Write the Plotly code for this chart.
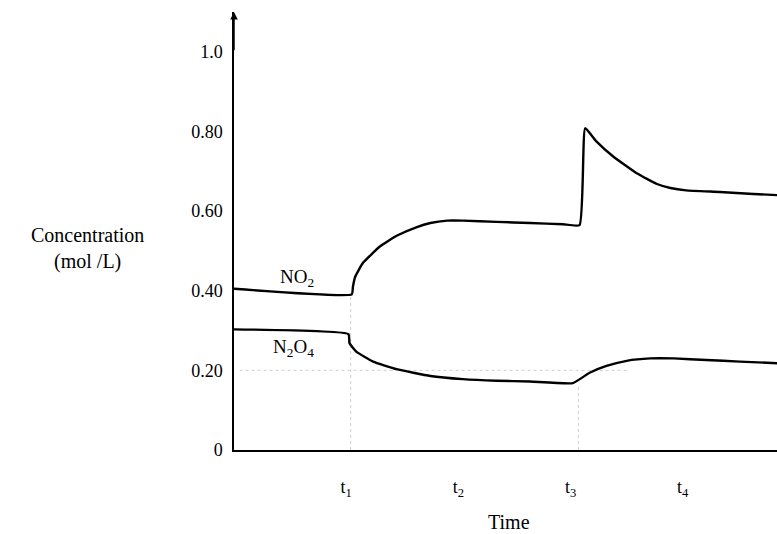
import plotly.graph_objects as go

# ---- data ----
no2_t = [0.00, 1.05, 1.06, 1.08, 1.15, 1.30, 1.45, 1.63, 1.75, 1.90, 2.04, 2.34, 2.64, 2.93, 3.08,
         3.13, 3.23, 3.38, 3.59, 3.77, 3.89, 4.03, 4.33, 4.63, 4.84]
no2_c = [0.405, 0.391, 0.410, 0.435, 0.470, 0.511, 0.538, 0.560, 0.570, 0.576, 0.576, 0.573, 0.570, 0.567, 0.565,
         0.808, 0.775, 0.737, 0.695, 0.668, 0.658, 0.652, 0.648, 0.643, 0.640]

n2o4_t = [0.00, 1.02, 1.03, 1.09, 1.24, 1.45, 1.75, 2.04, 2.34, 2.64, 3.02,
          3.17, 3.32, 3.50, 3.71, 3.92, 4.21, 4.51, 4.84]
n2o4_c = [0.303, 0.291, 0.268, 0.247, 0.222, 0.203, 0.186, 0.178, 0.174, 0.172, 0.168,
          0.194, 0.211, 0.224, 0.230, 0.230, 0.226, 0.222, 0.218]

time_ticks = [1, 2, 3, 4]
time_labels = ["t<sub>1</sub>", "t<sub>2</sub>", "t<sub>3</sub>", "t<sub>4</sub>"]
conc_ticks = [0, 0.2, 0.4, 0.6, 0.8, 1.0]
conc_labels = ["0", "0.20", "0.40", "0.60", "0.80", "1.0"]

# faint dotted guide lines seen in the scan
guide_h_t = [0.05, 3.5]
guide_h_c = [0.20, 0.20]
guide_v1_t = [1.04, 1.04]
guide_v1_c = [0.0, 0.39]
guide_v3_t = [3.07, 3.07]
guide_v3_c = [0.0, 0.165]

x_range = [0, 4.84]
y_range = [0, 1.1]

SERIF = "Liberation Serif, Times New Roman, serif"

fig = go.Figure()

for gt, gc in [(guide_h_t, guide_h_c), (guide_v1_t, guide_v1_c), (guide_v3_t, guide_v3_c)]:
    fig.add_trace(go.Scatter(x=gt, y=gc, mode="lines",
                             line=dict(color="#cfcfcf", width=1, dash="dot"),
                             hoverinfo="skip", showlegend=False))

fig.add_trace(go.Scatter(x=no2_t, y=no2_c, mode="lines", name="NO2",
                         line=dict(color="black", width=2.4, shape="spline", smoothing=0.4),
                         showlegend=False))
fig.add_trace(go.Scatter(x=n2o4_t, y=n2o4_c, mode="lines", name="N2O4",
                         line=dict(color="black", width=2.4, shape="spline", smoothing=0.4),
                         showlegend=False))

# series labels
fig.add_annotation(x=0.56, y=0.432, text="NO<sub>2</sub>", showarrow=False,
                   font=dict(family=SERIF, size=19, color="black"))
fig.add_annotation(x=0.53, y=0.256, text="N<sub>2</sub>O<sub>4</sub>", showarrow=False,
                   font=dict(family=SERIF, size=19, color="black"))

# y-axis arrowhead
fig.add_annotation(x=0, y=y_range[1], ax=0, ay=1.0, xref="x", yref="y", axref="x", ayref="y",
                   text="", showarrow=True, arrowhead=2, arrowsize=1, arrowwidth=1.5,
                   arrowcolor="black")

# axis titles
fig.add_annotation(xref="paper", yref="paper", x=-0.270, y=0.459,
                   xanchor="center", yanchor="middle",
                   text="Concentration<br>(mol /L)", showarrow=False, align="center",
                   font=dict(family=SERIF, size=20, color="black"))
fig.add_annotation(xref="paper", yref="paper", x=0.506, y=-0.165,
                   xanchor="center", yanchor="middle",
                   text="Time", showarrow=False,
                   font=dict(family=SERIF, size=20, color="black"))

fig.update_layout(
    width=777, height=534,
    margin=dict(l=234, r=0, t=12, b=84),
    paper_bgcolor="white", plot_bgcolor="white",
    xaxis=dict(range=x_range, showgrid=False, zeroline=False, showline=True,
               linecolor="black", linewidth=1.5, ticks="",
               tickmode="array", tickvals=time_ticks, ticktext=time_labels,
               ticklabelstandoff=20,
               tickfont=dict(family=SERIF, size=18, color="black")),
    yaxis=dict(range=y_range, showgrid=False, zeroline=False, showline=True,
               linecolor="black", linewidth=1.5, ticks="",
               tickmode="array", tickvals=conc_ticks, ticktext=conc_labels,
               ticklabelstandoff=6,
               tickfont=dict(family=SERIF, size=18, color="black")),
)

fig.write_html("out.html")
